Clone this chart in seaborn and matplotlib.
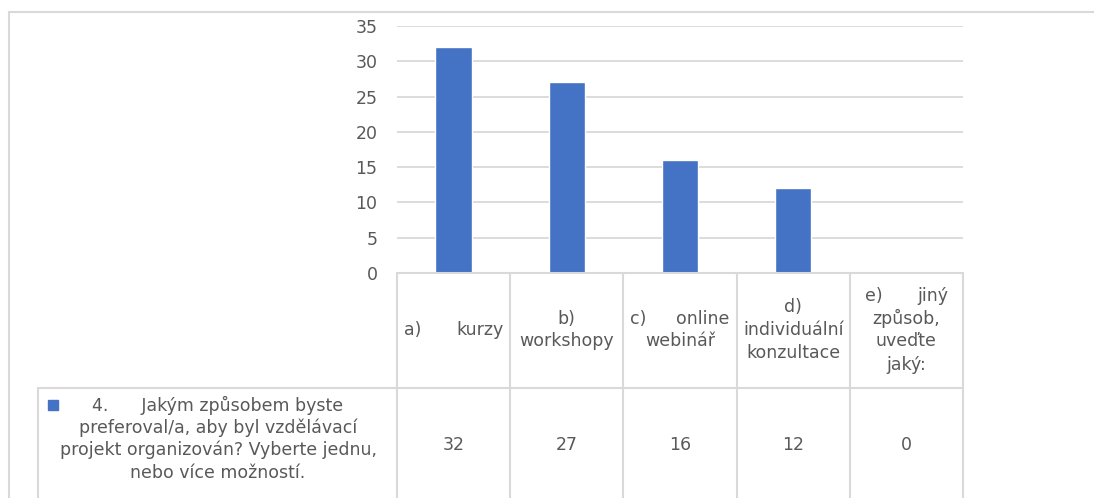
import matplotlib
matplotlib.use("Agg")
import matplotlib.pyplot as plt
import matplotlib.transforms as mtransforms
from matplotlib.lines import Line2D
from matplotlib.patches import Rectangle
import seaborn as sns
import pandas as pd

# ---- data ----
categories = ["a) kurzy", "b) workshopy", "c) online webinář",
              "d) individuální konzultace", "e) jiný způsob, uveďte jaký:"]
values = [32, 27, 16, 12, 0]
# header cell lines; "|" splits a justified line into left/right parts
header_lines = [["a)|kurzy"], ["b)", "workshopy"], ["c)|online", "webinář"],
                ["d)", "individuální", "konzultace"],
                ["e)|jiný", "způsob,", "uveďte", "jaký:"]]
legend_lines = ["4.      Jakým způsobem byste", "preferoval/a, aby byl vzdělávací",
                "projekt organizován? Vyberte jednu,", "nebo více možností."]
yticks = [0, 5, 10, 15, 20, 25, 30, 35]

BAR = "#4472C4"
GRID = "#D9D9D9"
TXT = "#595959"
FONT = "DejaVu Sans"
FS = 12.5

W, H = 1094, 498
sns.set_theme(style="white")
plt.rcParams["font.family"] = [FONT]

fig = plt.figure(figsize=(W / 100, H / 100), dpi=100)

def fy(y):
    return 1 - y / H

def fx(x):
    return x / W

ax = fig.add_axes([fx(397), fy(273), fx(963) - fx(397), (273 - 26) / H])
df = pd.DataFrame({"cat": categories, "val": values})
sns.barplot(data=df, x="cat", y="val", color=BAR, width=0.32, ax=ax,
            saturation=1)
ax.set_xlim(-0.5, len(categories) - 0.5)
ax.set_ylim(0, 35)
ax.set_yticks(yticks)
ax.set_yticklabels([str(t) for t in yticks], color=TXT, fontsize=FS)
ax.tick_params(axis="y", length=0, pad=14)
ax.set_xticks([])
ax.set_xlabel("")
ax.set_ylabel("")
ax.yaxis.grid(True, color=GRID, linewidth=1.3)
ax.set_axisbelow(True)
for s in ["top", "right", "left", "bottom"]:
    ax.spines[s].set_visible(False)

# outer chart border (clipped)
fig.add_artist(Line2D([fx(9), 1], [fy(12), fy(12)], color=GRID, lw=1.5,
                      transform=fig.transFigure))
fig.add_artist(Line2D([fx(9), fx(9)], [fy(12), 0], color=GRID, lw=1.5,
                      transform=fig.transFigure))

# data table
bt = mtransforms.blended_transform_factory(ax.transData, fig.transFigure)
n = len(categories)
for i in range(n + 1):
    fig.add_artist(Line2D([i - 0.5, i - 0.5], [fy(273), 0], color=GRID, lw=1.5,
                          transform=bt))
fig.add_artist(Line2D([-0.5, n - 0.5], [fy(273), fy(273)], color=GRID, lw=1.5,
                      transform=bt))
fig.add_artist(Line2D([fx(38), fx(963)], [fy(388), fy(388)], color=GRID, lw=1.5,
                      transform=fig.transFigure))
fig.add_artist(Line2D([fx(38), fx(38)], [fy(388), 0], color=GRID, lw=1.5,
                      transform=fig.transFigure))

LS = 23  # line spacing px
pxu = 1 / 113.2  # data units per pixel horizontally
for i, lines in enumerate(header_lines):
    k = len(lines)
    pad = (15 if i == 4 else 7) * pxu
    for j, line in enumerate(lines):
        y = fy(330 + (j - (k - 1) / 2) * LS)
        if "|" in line:
            l, r = line.split("|")
            fig.text(i - 0.5 + pad, y, l, transform=bt, ha="left", va="center",
                     color=TXT, fontsize=FS)
            fig.text(i + 0.5 - pad, y, r, transform=bt, ha="right", va="center",
                     color=TXT, fontsize=FS)
        else:
            fig.text(i, y, line, transform=bt, ha="center", va="center",
                     color=TXT, fontsize=FS)
    fig.text(i, fy(445), str(values[i]), transform=bt, ha="center",
             va="center", color=TXT, fontsize=FS)

for j, line in enumerate(legend_lines):
    fig.text(fx(218), fy(405 + j * 22.5), line, ha="center", va="center",
             color=TXT, fontsize=FS)
fig.add_artist(Rectangle((fx(48), fy(410)), fx(10), 10 / H, color=BAR,
                         transform=fig.transFigure))

fig.savefig("out.png", dpi=100)
